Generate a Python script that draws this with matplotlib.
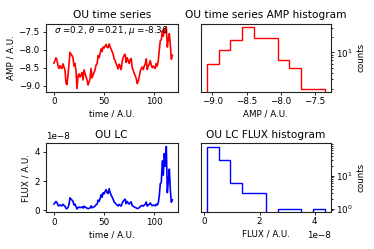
import numpy as np
import matplotlib
matplotlib.use("Agg")
import matplotlib.pyplot as plt

# ---- data ----
time = np.arange(119)
amp = np.array([
    -8.37, -8.30, -8.22, -8.28, -8.45, -8.52, -8.44, -8.50, -8.52, -8.39,
    -8.48, -8.56, -8.93, -8.97, -8.70, -8.40, -8.07, -8.12, -8.16, -8.22,
    -8.45, -8.38, -8.60, -9.08, -8.72, -8.67, -8.76, -8.70, -8.63, -8.84,
    -8.56, -8.66, -8.75, -8.84, -8.98, -8.90, -8.80, -8.52, -8.78, -8.70,
    -8.63, -8.55, -8.42, -8.39, -8.16, -8.22, -8.10, -7.97, -8.05, -7.92,
    -7.95, -7.89, -7.85, -7.92, -7.94, -7.83, -7.92, -7.98, -8.05, -8.12,
    -8.25, -8.30, -8.39, -8.45, -8.53, -8.40, -8.47, -8.55, -8.32, -8.21,
    -8.15, -8.12, -8.35, -8.22, -8.30, -8.38, -8.28, -8.24, -8.50, -8.57,
    -8.66, -8.72, -8.80, -8.94, -8.88, -8.75, -8.60, -8.52, -8.48, -8.55,
    -8.45, -8.39, -8.25, -8.55, -8.45, -8.40, -8.30, -8.42, -8.50, -8.45,
    -8.48, -8.52, -8.38, -8.45, -8.30, -8.00, -7.74, -7.72, -7.47, -7.62,
    -7.41, -7.52, -7.36, -7.92, -7.70, -7.55, -7.85, -8.26, -8.15,
])
flux = 10.0 ** amp

amp_counts = [6, 11, 17, 31, 19, 19, 7, 5, 2, 2]
flux_counts = [77, 29, 6, 3, 3, 0, 1, 1, 0, 1]
n_bins = 10

amp_ticks = [-9.0, -8.5, -8.0, -7.5]
time_ticks = [0, 50, 100]

ou_text = r"$\sigma$ =0.2, $\theta$ =0.21, $\mu$ =-8.36"

# ---- style ----
plt.rcParams.update({
    "font.size": 6.3,
    "axes.titlesize": 7.6,
    "axes.linewidth": 0.8,
    "axes.edgecolor": "#222222",
    "xtick.major.size": 2.2,
    "ytick.major.size": 2.2,
    "xtick.minor.size": 1.3,
    "ytick.minor.size": 1.3,
    "xtick.major.width": 0.6,
    "ytick.major.width": 0.6,
    "xtick.major.pad": 2.0,
    "ytick.major.pad": 2.0,
    "axes.labelpad": 2.5,
    "axes.titlepad": 4.0,
})

fig = plt.figure(figsize=(3.74, 2.49), dpi=100)

ax1 = fig.add_axes([0.122, 0.632, 0.353, 0.272])
ax2 = fig.add_axes([0.537, 0.632, 0.347, 0.272])
ax3 = fig.add_axes([0.122, 0.148, 0.353, 0.276])
ax4 = fig.add_axes([0.537, 0.150, 0.347, 0.274])

# time series
ax1.plot(time, amp, color="red", lw=1.2)
ax1.set_xlim(-8.3, 123.3)
ax1.set_xticks(time_ticks)
ax1.set_yticks(amp_ticks)
ax1.set_title("OU time series")
ax1.set_xlabel("time / A.U.")
ax1.set_ylabel("AMP / A.U.")
ax1.text(0.065, 0.90, ou_text, transform=ax1.transAxes, va="center", ha="left")

# amp histogram
amp_edges = np.linspace(amp.min(), amp.max(), n_bins + 1)
ax2.hist(amp_edges[:-1], bins=amp_edges, weights=amp_counts,
         histtype="step", log=True, color="red", lw=1.0)
ax2.set_xticks(amp_ticks)
ax2.set_title("OU time series AMP histogram")
ax2.set_xlabel("AMP / A.U.")
ax2.set_ylabel("counts")
ax2.yaxis.tick_right()
ax2.yaxis.set_label_position("right")

# light curve
ax3.plot(time, flux, color="blue", lw=1.2)
ax3.set_xlim(-8.3, 123.3)
ax3.set_xticks(time_ticks)
ax3.set_title("OU LC")
ax3.set_xlabel("time / A.U.")
ax3.set_ylabel("FLUX / A.U.")

# flux histogram
flux_edges = np.linspace(flux.min(), flux.max(), n_bins + 1)
ax4.hist(flux_edges[:-1], bins=flux_edges, weights=flux_counts,
         histtype="step", log=True, color="blue", lw=1.0)
ax4.set_title("OU LC FLUX histogram")
ax4.set_xlabel("FLUX / A.U.")
ax4.set_ylabel("counts")
ax4.yaxis.tick_right()
ax4.yaxis.set_label_position("right")

fig.savefig("out.png", dpi=100)
